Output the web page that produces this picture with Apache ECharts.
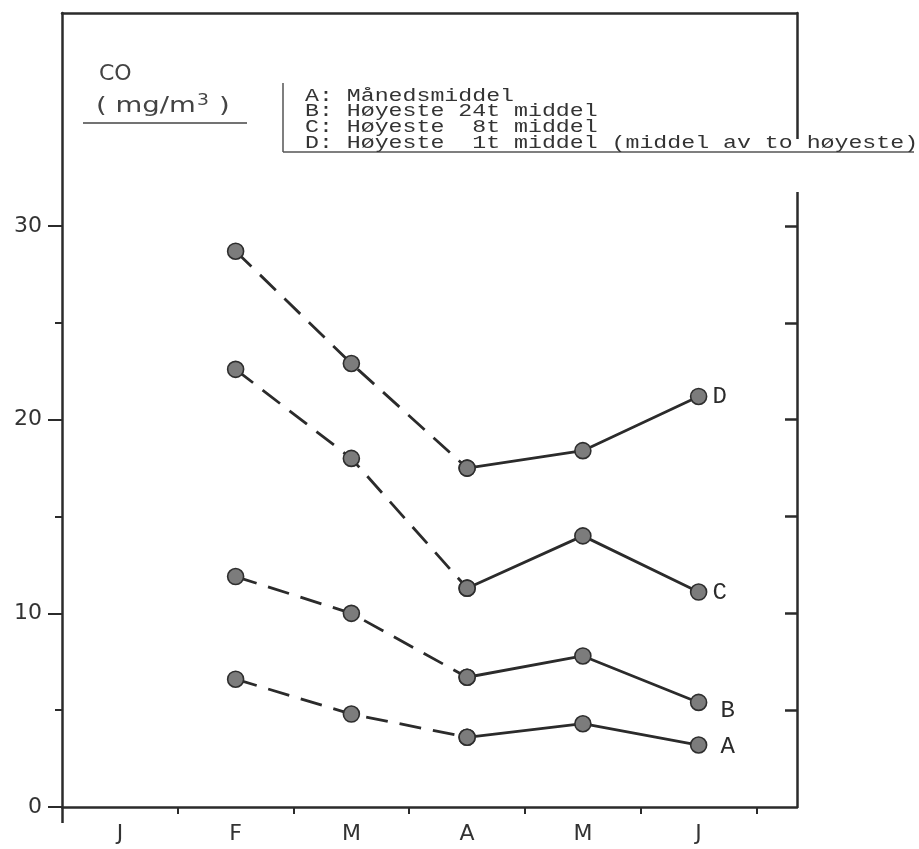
<!DOCTYPE html>
<html>
<head>
<meta charset="utf-8">
<script src="https://cdn.jsdelivr.net/npm/echarts@6/dist/echarts.min.js"></script>
<style>
  html, body { margin: 0; padding: 0; background: #fff; }
  #chart { width: 919px; height: 849px; }
</style>
</head>
<body>
<div id="chart"></div>
<script>
// months on the x axis, data starts in February
const months = ['J', 'F', 'M', 'A', 'M', 'J'];
const firstMonth = 1;

// CO (mg/m3), F..J
const seriesA = [6.6, 4.8, 3.6, 4.3, 3.2];
const seriesB = [11.9, 10.0, 6.7, 7.8, 5.4];
const seriesC = [22.6, 18.0, 11.3, 14.0, 11.1];
const seriesD = [28.7, 22.9, 17.5, 18.4, 21.2];

const yLabels = [0, 10, 20, 30];
const yMinorTicks = [5, 15, 25];
const rightTicks = [5, 10, 15, 20, 25, 30];

const legendLines = [
  'A: Månedsmiddel',
  'B: Høyeste 24t middel',
  'C: Høyeste  8t middel',
  'D: Høyeste  1t middel (middel av to høyeste)'
];

const ink = '#2b2b2b';
const sans = 'DejaVu Sans';
const mono = 'Liberation Mono';
const xMax = 6.35, yMax = 41;

function points(vals, from, to) {
  let out = [];
  for (let i = from; i <= to; i++) out.push([firstMonth + i + 0.5, vals[i]]);
  return out;
}

function makeSeries(name, vals, labelOffset) {
  const common = {
    type: 'line',
    xAxisIndex: 0,
    yAxisIndex: 0,
    symbol: 'circle',
    symbolSize: 16,
    itemStyle: { color: '#7c7c7c', borderColor: '#2e2e2e', borderWidth: 1.6 },
    z: 5
  };
  return [
    Object.assign({}, common, {
      name: name + '-dash',
      data: points(vals, 0, 2),
      lineStyle: { color: ink, width: 2.8, type: [22, 12] }
    }),
    Object.assign({}, common, {
      name: name,
      data: points(vals, 2, 4),
      lineStyle: { color: ink, width: 2.8 },
      label: {
        show: true,
        position: 'right',
        distance: 5,
        offset: labelOffset,
        color: ink,
        fontFamily: mono,
        fontSize: 24,
        formatter: p => (p.dataIndex === 2 ? name : '')
      }
    })
  ];
}

// shared pieces of a plain axis
function bare(extra) {
  return Object.assign({
    type: 'value',
    splitLine: { show: false },
    axisLine: { show: false, onZero: false },
    axisTick: { show: false },
    axisLabel: { show: false }
  }, extra);
}

const chart = echarts.init(document.getElementById('chart'));

const gridBox = { left: 62, right: 122, top: 13, bottom: 42 };

const option = {
  backgroundColor: '#fff',
  animation: false,
  grid: [Object.assign({}, gridBox), Object.assign({}, gridBox)],
  xAxis: [
    bare({
      gridIndex: 0, position: 'bottom', min: 0, max: xMax, interval: 1,
      axisLine: { show: true, onZero: false, lineStyle: { color: ink, width: 2.5 } },
      axisTick: { show: true, customValues: [1, 2, 3, 4, 5, 6], length: 7, lineStyle: { color: ink, width: 2 } },
      axisLabel: {
        show: true, customValues: months.map((m, i) => i + 0.5),
        formatter: v => months[Math.floor(v)],
        color: '#333', fontFamily: sans, fontSize: 22, margin: 16
      }
    }),
    bare({
      gridIndex: 0, position: 'top', min: 0, max: xMax,
      axisLine: { show: true, onZero: false, lineStyle: { color: ink, width: 2.5 } }
    }),
    // left axis runs a little below the x axis
    bare({
      gridIndex: 1, position: 'bottom', min: 0, max: xMax,
      axisTick: { show: true, customValues: [0], length: 16, lineStyle: { color: ink, width: 2.5 } }
    })
  ],
  yAxis: [
    bare({
      gridIndex: 0, position: 'left', min: 0, max: yMax, interval: 10,
      axisLine: { show: true, onZero: false, lineStyle: { color: ink, width: 2.5 } },
      axisTick: { show: true, customValues: yLabels, length: 14, lineStyle: { color: ink, width: 2 } },
      axisLabel: { show: true, customValues: yLabels, color: '#333', fontFamily: sans, fontSize: 22, margin: 20 }
    }),
    bare({
      gridIndex: 0, position: 'right', min: 0, max: yMax,
      axisLine: { show: true, onZero: false, lineStyle: { color: ink, width: 2.5 } },
      axisTick: { show: true, inside: true, customValues: rightTicks, length: 12, lineStyle: { color: ink, width: 2.5 } }
    }),
    bare({
      gridIndex: 1, position: 'left', min: 0, max: yMax,
      axisTick: { show: true, customValues: yMinorTicks, length: 7, lineStyle: { color: ink, width: 2 } }
    })
  ],
  series: [].concat(
    makeSeries('A', seriesA, [8, 2]),
    makeSeries('B', seriesB, [8, 8]),
    makeSeries('C', seriesC, [0, 1]),
    makeSeries('D', seriesD, [0, 0])
  ),
  graphic: [
    // unit label
    { type: 'text', x: 99, y: 63, style: { text: 'CO', font: '22px ' + sans, fill: '#444' } },
    {
      type: 'text', x: 96, y: 94, scaleX: 1.25,
      style: {
        text: '( mg/m{s|3} )', font: '22px ' + sans, fill: '#444',
        rich: { s: { fontSize: 15, fontFamily: sans, verticalAlign: 'top', padding: [0, 1, 10, 1] } }
      }
    },
    { type: 'line', shape: { x1: 83, y1: 123, x2: 247, y2: 123 }, style: { stroke: '#444', lineWidth: 1.5 } },
    // gap in right frame behind the legend
    { type: 'rect', z: 100, shape: { x: 788, y: 139, width: 18, height: 53 }, style: { fill: '#fff' } },
    // legend box
    { type: 'line', z: 101, shape: { x1: 283, y1: 83, x2: 283, y2: 152 }, style: { stroke: '#555', lineWidth: 1.5 } },
    { type: 'line', z: 101, shape: { x1: 283, y1: 152, x2: 914, y2: 152 }, style: { stroke: '#555', lineWidth: 1.5 } },
    {
      type: 'text', z: 101, x: 305, y: 88, scaleX: 1.29,
      style: { text: legendLines.join('\n'), font: '18px ' + mono, lineHeight: 15.7, fill: '#333' }
    }
  ]
};

chart.setOption(option);
</script>
</body>
</html>
